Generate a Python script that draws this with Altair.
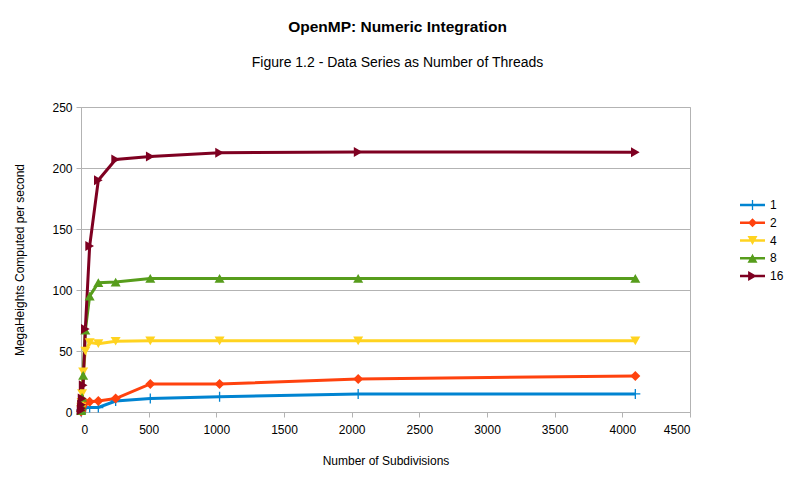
import altair as alt
import pandas as pd

subdivisions = [1, 2, 4, 8, 16, 32, 64, 128, 256, 512, 1024, 2048, 4096]
threads = ["1", "2", "4", "8", "16"]
t1 = [0.5, 1, 2, 3, 3.5, 3.5, 3.7, 3.7, 9, 11, 12.5, 14.8, 14.8]
t2 = [0.5, 1, 2, 4, 6, 7.7, 8.5, 9, 11, 23, 23, 27, 29.6]
t4 = [2, 4, 8, 15, 33, 50, 57, 56, 58, 58.3, 58.3, 58.3, 58.3]
t8 = [1, 2, 5, 12, 30, 67, 95, 106, 106.5, 109.5, 109.5, 109.5, 109.5]
t16 = [1.5, 3, 6, 11, 22, 68, 136, 190, 207, 209.5, 212.5, 213.2, 213]
series = [t1, t2, t4, t8, t16]

colors = ["#0084d1", "#ff420e", "#ffd320", "#579d1c", "#7e0021"]

plot_shapes = [
    "M-1,-0.13H1V0.13H-1Z M-0.13,-1H0.13V1H-0.13Z",
    "diamond",
    "triangle-down",
    "triangle-up",
    "triangle-right",
]
line_part = "M-2.083,-0.217H2.083V0.217H-2.083Z "
legend_shapes = [
    line_part + "M-0.833,-0.108H0.833V0.108H-0.833Z M-0.108,-0.833H0.108V0.833H-0.108Z",
    line_part + "M-0.75,0L0,-0.75L0.75,0L0,0.75Z",
    line_part + "M-0.833,-0.73L0.833,-0.73L0,0.73Z",
    line_part + "M-0.833,0.73L0,-0.73L0.833,0.73Z",
    line_part + "M-0.73,-0.833L0.73,0L-0.73,0.833Z",
]

rows = []
for name, vals in zip(threads, series):
    for x, v in zip(subdivisions, vals):
        rows.append({"Subdivisions": x, "Value": v, "Threads": name})
df = pd.DataFrame(rows)

FONT = "Liberation Sans"

x_enc = alt.X(
    "Subdivisions:Q",
    title="Number of Subdivisions",
    scale=alt.Scale(domain=[0, 4500], nice=False),
    axis=alt.Axis(values=list(range(0, 4501, 500)), format="d", grid=False, labelPadding=7,
                  titlePadding=20, tickSize=5),
)
y_enc = alt.Y(
    "Value:Q",
    title="MegaHeights Computed per second",
    scale=alt.Scale(domain=[0, 250], nice=False),
    axis=alt.Axis(values=list(range(0, 251, 50)), format="d", grid=True, labelPadding=4,
                  titlePadding=25, tickSize=5),
)

base = alt.Chart(df)

lines = base.mark_line(strokeWidth=3).encode(
    x=x_enc, y=y_enc,
    color=alt.Color("Threads:N", sort=threads,
                    scale=alt.Scale(domain=threads, range=colors), legend=None),
    detail="Threads:N",
)

points = base.mark_point(filled=True, opacity=1, strokeWidth=0).encode(
    x=x_enc, y=y_enc,
    color=alt.Color("Threads:N", sort=threads,
                    scale=alt.Scale(domain=threads, range=colors), legend=None),
    shape=alt.Shape("Threads:N", sort=threads,
                    scale=alt.Scale(domain=threads, range=plot_shapes), legend=None),
    size=alt.value(100),
)

leg = dict(title=None, orient="none", legendX=665.5, legendY=92,
           symbolSize=144, symbolStrokeWidth=0, symbolOpacity=1,
           labelFont=FONT, labelFontSize=12, labelColor="black",
           labelOffset=11.5, rowPadding=5.75, padding=0)

legend_layer = base.mark_point(filled=True, strokeWidth=0).encode(
    x=x_enc, y=y_enc,
    color=alt.Color("Threads:N", sort=threads,
                    scale=alt.Scale(domain=threads, range=colors),
                    legend=alt.Legend(**leg)),
    shape=alt.Shape("Threads:N", sort=threads,
                    scale=alt.Scale(domain=threads, range=legend_shapes),
                    legend=alt.Legend(**leg)),
    size=alt.value(0),
)

chart = alt.layer(lines, points, legend_layer).resolve_scale(
    color="independent", shape="independent"
).properties(
    width=609,
    height=305,
    background="white",
    autosize=alt.AutoSizeParams(type="none"),
    padding={"left": 73, "top": 99, "right": 100, "bottom": 60},
    title=alt.TitleParams(
        text="OpenMP: Numeric Integration",
        subtitle="Figure 1.2 - Data Series as Number of Threads",
        anchor="middle", dx=12, font=FONT, fontSize=15.5, fontWeight="bold",
        color="black", subtitleFont=FONT, subtitleFontSize=14, subtitleColor="black",
        subtitlePadding=20, offset=31.5,
    ),
).configure_view(stroke="#b3b3b3", strokeWidth=1).configure_axis(
    domainColor="#b3b3b3", tickColor="#b3b3b3", gridColor="#b3b3b3",
    labelFont=FONT, titleFont=FONT, labelFontSize=12, titleFontSize=12,
    labelColor="black", titleColor="black", titleFontWeight="normal",
)

chart.save("out.html", embed_options={"renderer": "svg", "actions": False})
